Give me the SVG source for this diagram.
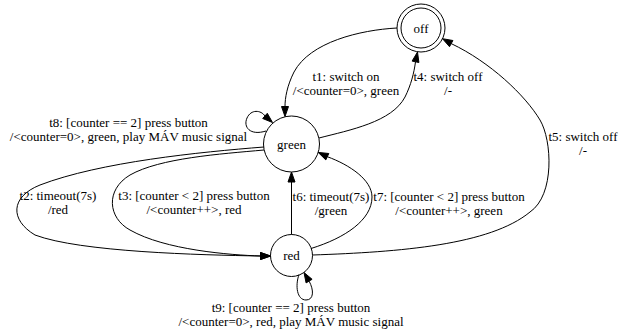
<svg xmlns="http://www.w3.org/2000/svg" width="620" height="333" viewBox="0 0 620 333">
<style>
.node { fill: none; stroke: #000; stroke-width: 1; }
.edge { fill: none; stroke: #000; stroke-width: 1; }
.head { fill: #000; stroke: #000; stroke-width: 1; }
text { font-family: "Liberation Serif", "Times New Roman", serif; font-size: 13px; fill: #000; text-anchor: middle; }
</style>
<rect width="620" height="333" fill="#fff"/>
<g id="off">
<circle class="node" cx="421" cy="28" r="24"/>
<circle class="node" cx="421" cy="28" r="20"/>
<text x="421" y="32.5">off</text>
</g>
<g id="green">
<circle class="node" cx="291.5" cy="144" r="28"/>
<text x="291.5" y="148.5">green</text>
</g>
<g id="red">
<circle class="node" cx="291.5" cy="255.5" r="21"/>
<text x="291.5" y="260">red</text>
</g>
<g id="connectors">
<g id="t1">
<path class="edge" d="M397,28 C360,30 310,42 294,72 C287,86 285,98 285,106.5"/>
<polygon class="head" points="281.5,106.5 285,116.5 288.5,106.5"/>
<text x="346" y="81">t1: switch on</text>
<text x="346" y="95">/&lt;counter=0&gt;, green</text>
</g>
<g id="t4">
<path class="edge" d="M319,138 C350,130 392,122 405,97 C411,85 414,73 415.5,61.8"/>
<polygon class="head" points="418.9,62.5 417.5,52 412.1,61.1"/>
<text x="448" y="81">t4: switch off</text>
<text x="448" y="95">/-</text>
</g>
<g id="t5">
<path class="edge" d="M312.5,255 C400,252 490,245 530,212 C555,195 552,140 540,120 C525,95 490,62 451.2,43.6"/>
<polygon class="head" points="452.9,40.5 442.5,38.7 449.5,46.7"/>
<text x="583" y="141">t5: switch off</text>
<text x="583" y="155">/-</text>
</g>
<g id="t6">
<path class="edge" d="M291.5,234.5 L291.5,182"/>
<polygon class="head" points="288,182 291.5,172 295,182"/>
<text x="331" y="201">t6: timeout(7s)</text>
<text x="331" y="215">/green</text>
</g>
<g id="t7">
<path class="edge" d="M311,248.5 C345,238 372,220 372,197 C372,180 350,165 327.3,156.7"/>
<polygon class="head" points="328.8,153.5 318.2,152.4 325.8,159.9"/>
<text x="449" y="201">t7: [counter &lt; 2] press button</text>
<text x="449" y="215">/&lt;counter++&gt;, green</text>
</g>
<g id="t2">
<path class="edge" d="M264,147 C200,152 100,162 40,185 C10,197 10,220 35,235 C80,252 200,255 260.5,256"/>
<polygon class="head" points="260.5,252.5 270.5,256 260.5,259.5"/>
<text x="58" y="200">t2: timeout(7s)</text>
<text x="58" y="214">/red</text>
</g>
<g id="t3">
<path class="edge" d="M264,150 C220,154 160,158 130,175 C105,190 108,218 130,230 C165,250 230,255 260.5,256"/>
<polygon class="head" points="260.5,252.5 270.5,256 260.5,259.5"/>
<text x="194" y="200">t3: [counter &lt; 2] press button</text>
<text x="194" y="214">/&lt;counter++&gt;, red</text>
</g>
<g id="t8">
<path class="edge" d="M266,131 C250,136 243,127 247,118 C251,109 261,110 265,116"/>
<polygon class="head" points="267.3,113.3 272.5,122.5 262.7,118.5"/>
<text x="128.5" y="127">t8: [counter == 2] press button</text>
<text x="128.5" y="141">/&lt;counter=0&gt;, green, play MÁV music signal</text>
</g>
<g id="t9">
<path class="edge" d="M299,274.5 C295,286 297,300 306,300 C314,300 314,290 309.1,281.1"/>
<polygon class="head" points="312.1,279.3 304,272.5 306.1,282.9"/>
<text x="291" y="312">t9: [counter == 2] press button</text>
<text x="291" y="326">/&lt;counter=0&gt;, red, play MÁV music signal</text>
</g>
</g>
</svg>
